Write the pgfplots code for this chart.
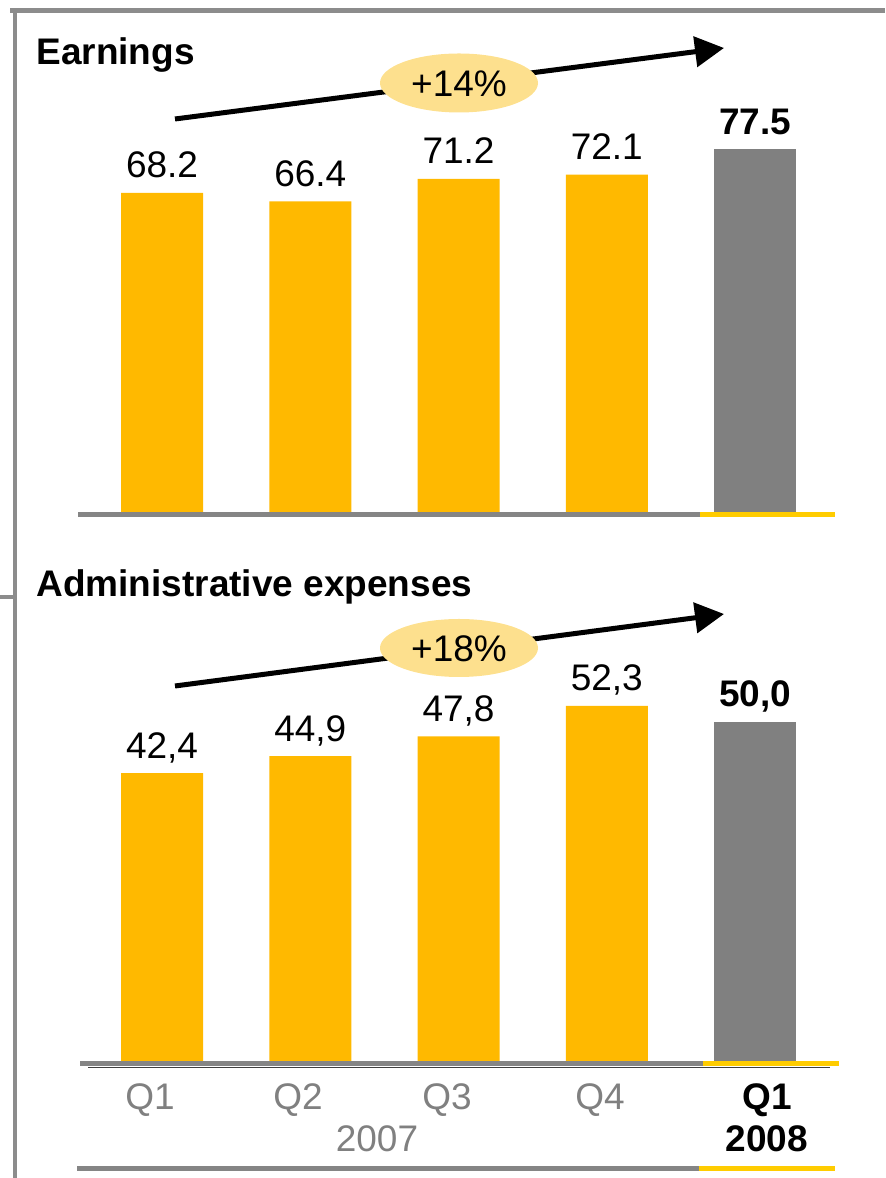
\documentclass[border=0pt]{standalone}
\usepackage{fontspec}
\setmainfont{Liberation Sans}
\usepackage{pgfplots}
\usepackage{pgfplotstable}
\pgfplotsset{compat=1.18}
\usetikzlibrary{arrows.meta}
\definecolor{baryellow}{HTML}{FFB900}
\definecolor{bargray}{HTML}{808080}
\definecolor{linegray}{HTML}{858585}
\definecolor{lineyellow}{HTML}{FFCC00}
\definecolor{framegray}{HTML}{8C8C8C}
\definecolor{ellipsefill}{HTML}{FDE08E}
\newcommand{\fs}{\fontsize{18.5}{22}\selectfont}

\pgfplotstableread{
x v label
0 68.2 68.2
1 66.4 66.4
2 71.2 71.2
3 72.1 72.1
}\earnA
\pgfplotstableread{
x v label
4 77.5 77.5
}\earnB
\pgfplotstableread{
x v label
0 42.4 42,4
1 44.9 44,9
2 47.8 47,8
3 52.3 52,3
}\admA
\pgfplotstableread{
x v label
4 50.0 50,0
}\admB

\pgfplotsset{panel/.style={
  scale only axis, width=377pt,
  xmin=-0.567, xmax=4.519, ymin=0,
  hide axis, clip=false,
  ybar, bar width=41pt,
  nodes near coords, point meta=explicit symbolic,
  every node near coord/.append style={anchor=base, yshift=7.5pt, inner sep=0pt, font=\fs, text=black},
}}

\begin{document}
\begin{tikzpicture}[font=\fs]
\path[use as bounding box] (0,0) rectangle (442.5pt,589pt);

\begin{axis}[panel, at={(39pt,332.5pt)}, anchor=south west, height=187.7pt, ymax=80]
\addplot[fill=baryellow, draw=none, bar shift=0pt] table[x=x, y=v, meta=label] {\earnA};
\addplot[fill=bargray, draw=none, bar shift=0pt,
  every node near coord/.append style={font=\fs\bfseries}] table[x=x, y=v, meta=label] {\earnB};
\end{axis}

\begin{axis}[panel, at={(39pt,58.5pt)}, anchor=south west, height=203.7pt, ymax=60]
\addplot[fill=baryellow, draw=none, bar shift=0pt] table[x=x, y=v, meta=label] {\admA};
\addplot[fill=bargray, draw=none, bar shift=0pt,
  every node near coord/.append style={font=\fs\bfseries}] table[x=x, y=v, meta=label] {\admB};
\end{axis}

\begin{scope}[x=0.5pt, y=-0.5pt, yshift=589pt]
% frame
\draw[framegray, line width=2.5pt] (10,10.5) -- (885,10.5);
\draw[framegray, line width=2pt] (15,9) -- (15,1178);
\draw[framegray, line width=2pt] (0,597) -- (15,597);
% titles
\node[anchor=base west, inner sep=0pt, font=\fs\bfseries] at (36,65) {Earnings};
\node[anchor=base west, inner sep=0pt, font=\fs\bfseries] at (36,597) {Administrative expenses};
% baselines panel 1
\draw[linegray, line width=2.5pt] (78,515) -- (700,515);
\draw[lineyellow, line width=2.5pt] (700,515) -- (835,515);
% baselines panel 2
\draw[linegray, line width=2.5pt] (80,1063.5) -- (703,1063.5);
\draw[lineyellow, line width=2.5pt] (703,1063.5) -- (839,1063.5);
\draw[black!75, line width=0.75pt] (88,1067.5) -- (830,1067.5);
% bottom line
\draw[linegray, line width=2.5pt] (77,1168.5) -- (699,1168.5);
\draw[lineyellow, line width=2.5pt] (699,1168.5) -- (835,1168.5);
% growth arrows
\draw[line width=2.5pt, -{Triangle[length=14.5pt, width=15pt]}] (175,119) -- (724,48);
\fill[ellipsefill] (459,83) ellipse [x radius=39.5pt, y radius=14.75pt];
\node[inner sep=0pt] at (459,84) {+14\%};
\draw[line width=2.5pt, -{Triangle[length=14.5pt, width=15pt]}] (175,686) -- (724,614);
\fill[ellipsefill] (459,648) ellipse [x radius=39.5pt, y radius=14.5pt];
\node[inner sep=0pt] at (459,649) {+18\%};
% category labels
\node[anchor=base, text=bargray, inner sep=0pt] at (150,1110) {Q1};
\node[anchor=base, text=bargray, inner sep=0pt] at (298,1110) {Q2};
\node[anchor=base, text=bargray, inner sep=0pt] at (447,1110) {Q3};
\node[anchor=base, text=bargray, inner sep=0pt] at (600,1110) {Q4};
\node[anchor=base, text=bargray, inner sep=0pt] at (377,1152) {2007};
\node[anchor=base, inner sep=0pt, font=\fs\bfseries] at (767,1110) {Q1};
\node[anchor=base, inner sep=0pt, font=\fs\bfseries] at (767,1152) {2008};
\end{scope}
\end{tikzpicture}
\end{document}
